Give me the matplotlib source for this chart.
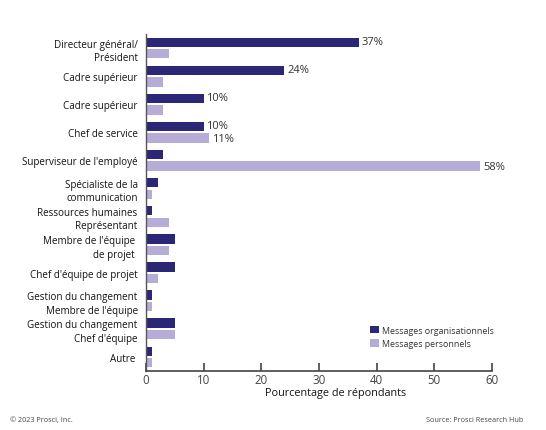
import matplotlib
matplotlib.use("Agg")
import matplotlib.pyplot as plt
import numpy as np

categories = [
    "Directeur général/\nPrésident",
    "Cadre supérieur",
    "Cadre supérieur",
    "Chef de service",
    "Superviseur de l'employé",
    "Spécialiste de la\ncommunication",
    "Ressources humaines\nReprésentant",
    "Membre de l'équipe \nde projet ",
    "Chef d'équipe de projet",
    "Gestion du changement\nMembre de l'équipe",
    "Gestion du changement\nChef d'équipe",
    "Autre ",
]
org_values = [37, 24, 10, 10, 3, 2, 1, 5, 5, 1, 5, 1]
pers_values = [4, 3, 3, 11, 58, 1, 4, 4, 2, 1, 5, 1]
org_labels = {0: "37%", 1: "24%", 2: "10%", 3: "10%"}
pers_labels = {3: "11%", 4: "58%"}
series_names = ["Messages organisationnels", "Messages personnels"]
x_ticks = [0, 10, 20, 30, 40, 50, 60]

plt.rcParams['font.family'] = ['Open Sans', 'DejaVu Sans']

DARK = "#2c2677"
LIGHT = "#b5add7"
TXT = "#141414"

W, H = 546, 431
fig = plt.figure(figsize=(W/100, H/100), dpi=100)
ax = fig.add_axes([146/W, 1-372/H, 346/W, 337/H])

y = np.arange(len(categories))
h = 0.33
off = 0.205
ax.barh(y - off, org_values, height=h, color=DARK, label=series_names[0])
ax.barh(y + off, pers_values, height=h, color=LIGHT, label=series_names[1])

for i, t in org_labels.items():
    ax.text(org_values[i] + 0.45, y[i] - off - 0.04, t, va="center", ha="left",
            fontsize=8, color="#333333")
for i, t in pers_labels.items():
    ax.text(pers_values[i] + 0.45, y[i] + off + 0.03, t, va="center", ha="left",
            fontsize=8, color="#333333")

ax.set_ylim(len(categories) - 0.5, -0.5)
ax.set_xlim(0, 60)
ax.set_yticks(y)
ax.set_yticklabels(categories, fontsize=7.1, color=TXT, ha="right",
                   linespacing=1.3)
ax.tick_params(axis="y", length=0, pad=6)
ax.set_xticks(x_ticks)
ax.tick_params(axis="x", direction="in", length=6, width=1.2, color="#444444",
               labelsize=8.3, labelcolor="#444444", pad=1.5)
for s in ["top", "right"]:
    ax.spines[s].set_visible(False)
ax.spines["left"].set_color("#555555")
ax.spines["left"].set_linewidth(1.0)
ax.spines["bottom"].set_color("#444444")
ax.spines["bottom"].set_linewidth(1.2)

leg = fig.legend(*ax.get_legend_handles_labels(), loc="upper right",
                 bbox_to_anchor=(494/W, 1-326.5/H), frameon=False,
                 fontsize=6.4, handlelength=1.0, handleheight=1.0,
                 handletextpad=0.4, labelspacing=0.5, borderaxespad=0,
                 borderpad=0)
for t in leg.get_texts():
    t.set_color("#333333")

fig.text(336/W, 1-394/H, "Pourcentage de répondants", ha="center",
         va="center", fontsize=7.8, color=TXT)
fig.text(10/W, 1-421/H, "© 2023 Prosci, Inc.", ha="left", va="center",
         fontsize=5.2, color="#444444")
fig.text(523/W, 1-421/H, "Source: Prosci Research Hub", ha="right",
         va="center", fontsize=5.2, color="#444444")

fig.savefig("out.png", dpi=100)
